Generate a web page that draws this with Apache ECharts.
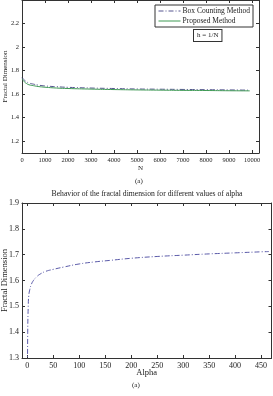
<!DOCTYPE html>
<html><head><meta charset="utf-8">
<script src="https://cdn.jsdelivr.net/npm/echarts@6/dist/echarts.min.js"></script>
<style>html,body{margin:0;padding:0;background:#fff}#c{width:273px;height:396px}</style>
</head><body><div id="c"></div>
<script>
// Top chart data
var nValues = [1, 100, 200, 300, 500, 700, 1000, 1500, 2000, 3000, 4000, 5000, 6000, 7000, 8000, 9000, 9900];
var boxCounting = [1.74, 1.72, 1.705, 1.695, 1.685, 1.677, 1.670, 1.663, 1.658, 1.652, 1.648, 1.644, 1.642, 1.640, 1.638, 1.636, 1.634];
var proposed = [1.73, 1.705, 1.69, 1.68, 1.672, 1.665, 1.659, 1.652, 1.648, 1.643, 1.639, 1.636, 1.634, 1.632, 1.631, 1.629, 1.628];
var topXTicks = [0, 1000, 2000, 3000, 4000, 5000, 6000, 7000, 8000, 9000, 10000];
var topYTicks = [1.2, 1.4, 1.6, 1.8, 2, 2.2];
// Bottom chart data
var alphaValues = [0.5, 1, 2, 3, 5, 8, 12, 18, 25, 35, 50, 70, 100, 130, 160, 200, 250, 300, 350, 400, 450, 465];
var fdAlpha = [1.2, 1.4, 1.5, 1.54, 1.565, 1.585, 1.60, 1.614, 1.625, 1.635, 1.643, 1.652, 1.664, 1.672, 1.678, 1.686, 1.693, 1.698, 1.703, 1.707, 1.711, 1.712];
var botXTicks = [0, 50, 100, 150, 200, 250, 300, 350, 400, 450];
var botYTicks = [1.3, 1.4, 1.5, 1.6, 1.7, 1.8, 1.9];

var FONT = 'Liberation Serif';
function zip(a, b) { return a.map(function (v, i) { return [v, b[i]]; }); }
function fmt(v) { return String(+(+v).toFixed(2)); }

function mkAxis(gi, min, max, ticks, pos, show, fs, nfs, name, gap, margin) {
  return {
    type: 'value', gridIndex: gi, min: min, max: max, position: pos,
    name: show ? name : '', nameLocation: 'middle', nameGap: gap, nameMoveOverlap: false,
    nameTextStyle: { fontFamily: FONT, fontSize: nfs, color: '#222' },
    axisLine: { show: true, onZero: false, lineStyle: { color: '#333', width: 1 } },
    axisTick: { show: true, inside: true, length: 3, customValues: ticks, lineStyle: { color: '#333' } },
    axisLabel: { show: show, customValues: ticks, formatter: fmt, fontFamily: FONT, fontSize: fs, color: '#222', margin: margin },
    splitLine: { show: false }
  };
}

var chart = echarts.init(document.getElementById('c'), null, { renderer: 'canvas' });
chart.setOption({
  animation: false,
  backgroundColor: '#fff',
  grid: [
    { left: 22, right: 14, top: 0, height: 153, outerBoundsMode: 'none', containLabel: false },
    { left: 22, right: 1.5, top: 203, height: 155, outerBoundsMode: 'none', containLabel: false }
  ],
  xAxis: [
    mkAxis(0, 0, 10300, topXTicks, 'bottom', true, 6.5, 7, 'N', 12, 4),
    mkAxis(0, 0, 10300, topXTicks, 'top', false, 6.5, 7, '', 0, 4),
    mkAxis(1, -10, 470, botXTicks, 'bottom', true, 8, 8.5, 'Alpha', 10.5, 4),
    mkAxis(1, -10, 470, botXTicks, 'top', false, 8, 8.5, '', 0, 4)
  ],
  yAxis: [
    mkAxis(0, 1.1, 2.4, topYTicks, 'left', true, 6.5, 7, 'Fractal Dimension', 13.5, 3),
    mkAxis(0, 1.1, 2.4, topYTicks, 'right', false, 6.5, 7, '', 0, 3),
    mkAxis(1, 1.3, 1.9, botYTicks, 'left', true, 8, 8.5, 'Fractal Dimension', 13, 3),
    mkAxis(1, 1.3, 1.9, botYTicks, 'right', false, 8, 8.5, '', 0, 3)
  ],
  legend: {
    data: ['Box Counting Method', 'Proposed Method'],
    orient: 'vertical', left: 155, top: 5,
    itemWidth: 22, itemHeight: 6, itemGap: 2,
    padding: [2, 3, 2, 3],
    borderColor: '#333', borderWidth: 1, backgroundColor: '#fff',
    itemStyle: { opacity: 0 },
    lineStyle: { width: 1 },
    textStyle: { fontFamily: FONT, fontSize: 7.5, color: '#222', padding: [0, 0, 0, -3] }
  },
  title: {
    text: 'Behavior of the fractal dimension for different values of alpha',
    left: 147, top: 190, textAlign: 'center', padding: 0,
    textStyle: { fontFamily: FONT, fontSize: 7.7, fontWeight: 'normal', color: '#222' }
  },
  graphic: [
    { type: 'text', left: 193, top: 29, style: { text: 'h = 1/N', fontFamily: FONT, fontSize: 7, fill: '#222', borderColor: '#333', borderWidth: 1, padding: [2, 3, 2, 3], backgroundColor: '#fff' } },
    { type: 'text', left: 135, top: 178, style: { text: '(a)', fontFamily: FONT, fontSize: 7, fill: '#222' } },
    { type: 'text', left: 132, top: 382, style: { text: '(a)', fontFamily: FONT, fontSize: 7, fill: '#222' } }
  ],
  series: [
    { name: 'Box Counting Method', type: 'line', xAxisIndex: 0, yAxisIndex: 0, data: zip(nValues, boxCounting), symbol: 'none', smooth: true, color: '#55558f',
      lineStyle: { width: 1, color: '#55558f', type: [5, 2, 1, 2] } },
    { name: 'Proposed Method', type: 'line', xAxisIndex: 0, yAxisIndex: 0, data: zip(nValues, proposed), symbol: 'none', smooth: true, color: '#3f9a55',
      lineStyle: { width: 1, color: '#3f9a55' } },
    { name: 'alpha', type: 'line', xAxisIndex: 2, yAxisIndex: 2, data: zip(alphaValues, fdAlpha), symbol: 'none', smooth: true, color: '#5a5aa8',
      lineStyle: { width: 1, color: '#5a5aa8', type: [5, 2, 1, 2] } }
  ]
});
</script></body></html>
